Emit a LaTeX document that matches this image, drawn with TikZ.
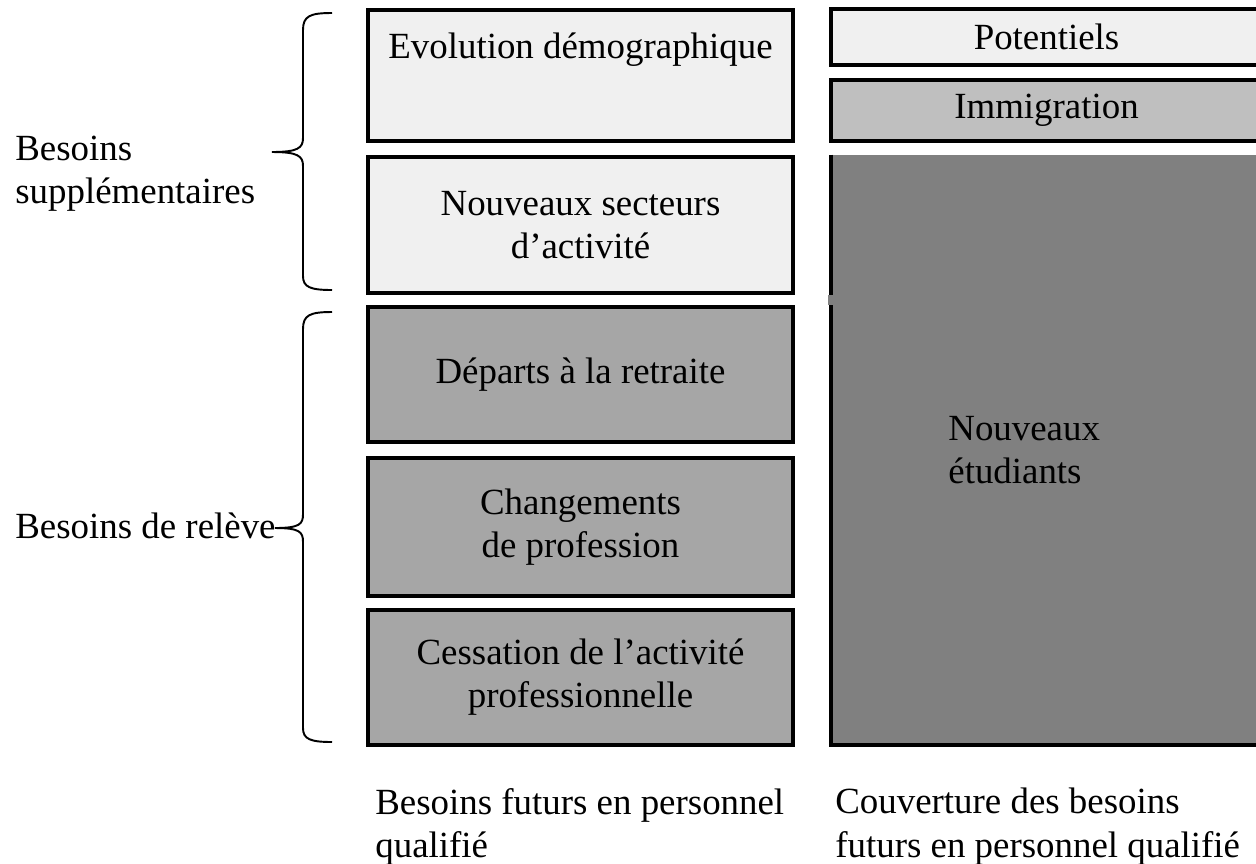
\documentclass[tikz,border=0pt]{standalone}
\usepackage{fontspec}
\setmainfont{Liberation Serif}
\usepackage{xcolor}
\usepackage{tikz}
\usetikzlibrary{positioning,calc}

\definecolor{grisclair}{HTML}{F0F0F0}
\definecolor{grismoyen}{HTML}{BFBFBF}
\definecolor{grisfonce}{HTML}{A6A6A6}
\definecolor{grisetu}{HTML}{808080}

\tikzset{
    every node/.style={font=\fontsize{21}{24.5}\selectfont},
    cadre/.style={draw, line width=2.2pt, inner sep=0pt, align=center},
    gauche/.style={cadre, minimum width=8.5cm},
    droite/.style={cadre, minimum width=8.62cm},
    etiq/.style={inner sep=0pt, align=left},
    accolade/.style={line width=1.1pt}
}

\begin{document}
\begin{tikzpicture}[x=0.02cm, y=-0.02cm]
    \useasboundingbox (0,0) rectangle (1256,863);

    % besoins futurs
    \node[gauche, fill=grisclair, minimum height=2.62cm] (evo) at (580.5,75.5) {};
    \node[inner sep=0pt, anchor=base] (evotxt) at (580.5,58) {Evolution démographique};
    \node[gauche, fill=grisclair, minimum height=2.72cm] (nou) at (580.5,225) {Nouveaux secteurs\\d’activité};
    \node[gauche, fill=grisfonce, minimum height=2.7cm] (dep) at (580.5,374.5) {Départs à la retraite};
    \node[gauche, fill=grisfonce, minimum height=2.76cm] (chg) at (580.5,527) {Changements\\de profession};
    \node[gauche, fill=grisfonce, minimum height=2.7cm] (ces) at (580.5,677.5) {Cessation de l’activité\\professionnelle};

    % couverture
    \node[droite, fill=grisclair, minimum height=1.12cm] (pot) at (1046.5,37) {Potentiels};
    \node[droite, fill=grismoyen, minimum height=1.22cm] (imm) at (1046.5,110.5) {Immigration};
    \node[fill=grisetu, inner sep=0pt, minimum width=8.62cm, minimum height=11.8cm] (etu) at (1046.5,450) {};
    \draw[line width=2.2pt] (etu.north west) -- (etu.south west) -- (etu.south east);
    \fill[grisetu] (828,295) rectangle (836,305);
    \node[etiq, anchor=north west] (etutxt) at (948,416) {Nouveaux\\étudiants};

    % accolades
    \draw[accolade] (332,13) .. controls (310,13) and (303,16) .. (303,30) -- (303,138)
        .. controls (303,148) and (298,152) .. (272,152) .. controls (298,152) and (303,156) .. (303,166)
        -- (303,276) .. controls (303,287) and (310,290) .. (332,290);
    \draw[accolade] (332,312) .. controls (310,312) and (303,315) .. (303,329) -- (303,514)
        .. controls (303,524) and (300,528) .. (275,528) .. controls (300,528) and (303,532) .. (303,542)
        -- (303,728) .. controls (303,739) and (310,742) .. (332,742);
    \node[etiq, anchor=north west] (supp) at (15,136) {Besoins\\supplémentaires};
    \node[etiq, anchor=base west] (rel) at (15,538) {Besoins de relève};

    % legendes
    \node[etiq, anchor=north west] (legbes) at (375,788) {Besoins futurs en personnel\\qualifié};
    \node[etiq, anchor=north west] (legcou) at (835,788) {Couverture des besoins\\futurs en personnel qualifié};
\end{tikzpicture}
\end{document}
